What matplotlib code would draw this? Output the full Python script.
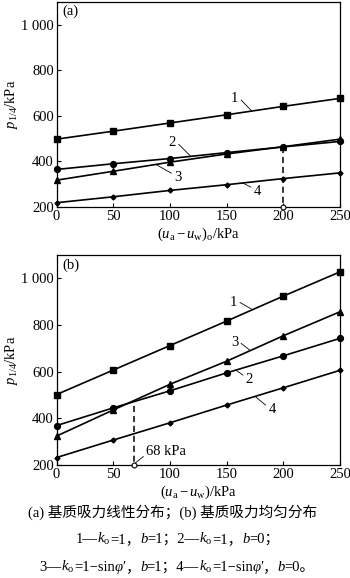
import matplotlib
matplotlib.use("Agg")
import matplotlib.pyplot as plt

plt.rcParams['font.family'] = ['Liberation Serif', 'Noto Sans CJK SC']
plt.rcParams['mathtext.fontset'] = 'custom'
plt.rcParams['mathtext.rm'] = 'Liberation Serif'
plt.rcParams['mathtext.it'] = 'Liberation Serif:italic'
plt.rcParams['mathtext.bf'] = 'Liberation Serif:bold'

# matric suction (kPa)
suction = [0, 50, 100, 150, 200, 250]

# (a) linear suction distribution
a_curve1 = [497, 532, 568, 604, 641, 676]
a_curve2 = [364, 389, 412, 438, 463, 487]
a_curve3 = [317, 356, 396, 432, 464, 497]
a_curve4 = [218, 244, 272, 297, 324, 349]

# (b) uniform suction distribution
b_curve1 = [502, 607, 712, 817, 924, 1028]
b_curve2 = [369, 445, 518, 595, 668, 743]
b_curve3 = [324, 436, 546, 645, 754, 857]
b_curve4 = [232, 307, 381, 457, 531, 606]

# marked suction values (dashed lines)
a_mark_x, a_mark_top = 200, 463
b_mark_x, b_mark_top = 68, 452

yticks = [200, 400, 600, 800, 1000]
yticklabels = ['200', '400', '600', '800', '1 000']
xticks = [0, 50, 100, 150, 200, 250]

caption1 = '(a) 基质吸力线性分布；(b) 基质吸力均匀分布'
caption2 = [('1—', 'normal'), (r'$k_\mathrm{o}$', 'math'), ('=1，', 'normal'), ('b', 'italic'),
            ('=1；2—', 'normal'), (r'$k_\mathrm{o}$', 'math'), ('=1，', 'normal'), ('b', 'italic'),
            ('=0；', 'normal')]
caption3 = [('3—', 'normal'), (r'$k_\mathrm{o}$', 'math'), ('=1−sin', 'normal'), ('φ′', 'italic'),
            ('，', 'normal'), ('b', 'italic'), ('=1；4—', 'normal'), (r'$k_\mathrm{o}$', 'math'),
            ('=1−sin', 'normal'), ('φ′', 'italic'), ('，', 'normal'), ('b', 'italic'),
            ('=0。', 'normal')]

markers = ['s', 'o', '^', 'D']
msizes = [4.0, 4.2, 4.0, 2.5]

fig = plt.figure(figsize=(3.5, 5.78), dpi=100)
ax_a = fig.add_axes([0.1617, 0.6422, 0.81, 0.3547])
ax_b = fig.add_axes([0.1617, 0.1955, 0.81, 0.3633])


def draw_panel(ax, curves, mark_x, mark_top, tag, xlabel):
    for vals, m, ms in zip(curves, markers, msizes):
        ax.plot(suction, vals, color='black', lw=1.2, marker=m, markersize=ms, clip_on=False, zorder=3)
    ax.plot([mark_x, mark_x], [mark_top, 200], color='black', lw=1.1, ls=(0, (4, 2.5)))
    ax.plot([mark_x], [200], marker='o', markersize=3.5, mfc='white', mec='black', mew=0.8,
            clip_on=False, zorder=4)
    ax.set_xlim(0, 250)
    ax.set_ylim(200, 1100)
    ax.set_xticks(xticks)
    ax.set_yticks(yticks)
    ax.set_yticklabels(yticklabels)
    ax.tick_params(direction='in', length=3, width=0.8, labelsize=10.5, pad=2)
    for sp in ax.spines.values():
        sp.set_linewidth(0.9)
    ax.set_xlabel(xlabel, fontsize=10.5, labelpad=2)
    ax.set_ylabel(r'$p_{\mathrm{1/4}}$/kPa', fontsize=10.5, labelpad=1)
    ax.text(0.02, 0.985, tag, transform=ax.transAxes, ha='left', va='top', fontsize=10.5)


def label(ax, s, text_xy, end_xy, relpos):
    ax.annotate(s, xy=end_xy, xytext=text_xy, ha='center', va='center', fontsize=10.5,
                arrowprops=dict(arrowstyle='-', lw=0.6, color='black', relpos=relpos,
                                shrinkA=0, shrinkB=0))


draw_panel(ax_a, [a_curve1, a_curve2, a_curve3, a_curve4], a_mark_x, a_mark_top, '(a)',
           r'$(u_\mathrm{a}-u_\mathrm{w})_\mathrm{o}$/kPa')
draw_panel(ax_b, [b_curve1, b_curve2, b_curve3, b_curve4], b_mark_x, b_mark_top, '(b)',
           r'$(u_\mathrm{a}-u_\mathrm{w})$/kPa')

label(ax_a, '1', (157, 676), (172, 621), (1.0, 0.6))
label(ax_a, '2', (102, 481), (118, 423), (1.0, 0.6))
label(ax_a, '3', (107, 329), (88, 385), (0.0, 0.7))
label(ax_a, '4', (177, 269), (164, 305), (0.0, 0.7))

label(ax_b, '1', (156, 898), (173, 865), (1.0, 0.6))
label(ax_b, '3', (157, 725), (171, 690), (1.0, 0.6))
label(ax_b, '2', (170, 566), (158, 607), (0.0, 0.7))
label(ax_b, '4', (190, 436), (175, 494), (0.0, 0.7))
ax_b.annotate('68 kPa', xy=(68, 203), xytext=(79, 257), ha='left', va='center', fontsize=10.5,
              arrowprops=dict(arrowstyle='-', lw=0.6, color='black', relpos=(0.0, 0.3),
                              shrinkA=0, shrinkB=1.5))

fig.text(0.493, 1 - 512 / 578, caption1, ha='center', va='center', fontsize=10.5)


def rich_line(pieces, xc, y, size):
    renderer = fig.canvas.get_renderer()
    probe = fig.text(0, 0, 'x', fontsize=size)
    wx = probe.get_window_extent(renderer).width
    texts, widths = [], []
    for s, kind in pieces:
        style = 'italic' if kind == 'italic' else 'normal'
        t = fig.text(0, y, s, fontsize=size, fontstyle=style, va='baseline', ha='left')
        if kind == 'math':
            w = t.get_window_extent(renderer).width
        else:
            t.set_text(s + 'x')
            w = t.get_window_extent(renderer).width - wx
            t.set_text(s)
        texts.append(t)
        widths.append(w)
    probe.remove()
    x = xc * fig.bbox.width - sum(widths) / 2
    for t, w in zip(texts, widths):
        t.set_x(x / fig.bbox.width)
        x += w


rich_line(caption2, 0.507, 1 - 543 / 578, 10.5)
rich_line(caption3, 0.505, 1 - 571 / 578, 10.5)

fig.savefig('out.png', dpi=100)
